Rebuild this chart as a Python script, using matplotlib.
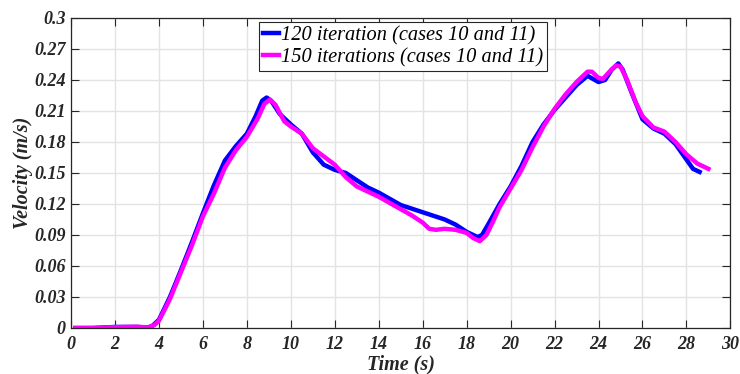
import matplotlib.pyplot as plt

# velocity samples, 120 iterations
t120 = [0.2, 1, 2, 3, 3.5, 3.7, 4, 4.5, 5, 5.5, 6, 6.5, 7, 7.5, 8, 8.4, 8.7, 8.9,
        9.1, 9.5, 10, 10.5, 11, 11.5, 12, 12.5, 13, 13.5, 14, 15, 16, 17, 17.5,
        18, 18.5, 18.7, 19, 19.5, 20, 20.5, 21, 21.5, 22, 22.5, 23, 23.5, 24,
        24.3, 24.6, 24.9, 25.1, 25.5, 26, 26.5, 27, 27.5, 28, 28.3, 28.6]
v120 = [0, 0, 0.001, 0.001, 0.0005, 0.002, 0.008, 0.030, 0.056, 0.083, 0.111,
        0.138, 0.162, 0.176, 0.188, 0.205, 0.220, 0.223, 0.220, 0.207, 0.197,
        0.188, 0.170, 0.158, 0.153, 0.150, 0.143, 0.136, 0.131, 0.119, 0.112,
        0.105, 0.100, 0.093, 0.088, 0.090, 0.101, 0.120, 0.137, 0.157, 0.180,
        0.197, 0.211, 0.223, 0.235, 0.244, 0.238, 0.240, 0.250, 0.256, 0.250,
        0.228, 0.202, 0.193, 0.188, 0.178, 0.163, 0.154, 0.151]

# velocity samples, 150 iterations
t150 = [0.2, 1, 2, 3, 3.5, 3.8, 4, 4.5, 5, 5.5, 6, 6.5, 7, 7.5, 8, 8.5, 8.8, 9.05,
        9.3, 9.7, 10, 10.5, 11, 11.5, 12, 12.5, 13, 13.5, 14, 15, 15.5, 16, 16.3,
        16.6, 17, 17.5, 18, 18.3, 18.6, 18.9, 19.2, 19.5, 20, 20.5, 21, 21.5, 22,
        22.5, 23, 23.5, 23.7, 24, 24.2, 24.5, 24.8, 25, 25.3, 25.7, 26, 26.5, 27,
        27.5, 28, 28.5, 29]
v150 = [0, 0, 0.0008, 0.0012, 0.0005, 0.003, 0.007, 0.028, 0.054, 0.080, 0.108,
        0.130, 0.155, 0.172, 0.185, 0.203, 0.217, 0.221, 0.216, 0.200, 0.195,
        0.188, 0.174, 0.166, 0.158, 0.146, 0.137, 0.132, 0.127, 0.115, 0.109,
        0.102, 0.096, 0.095, 0.096, 0.095, 0.092, 0.087, 0.084, 0.090, 0.103,
        0.117, 0.135, 0.153, 0.175, 0.195, 0.212, 0.226, 0.238, 0.248, 0.248,
        0.242, 0.241, 0.248, 0.254, 0.253, 0.240, 0.218, 0.205, 0.194, 0.190,
        0.180, 0.168, 0.159, 0.154]

xticks = list(range(0, 31, 2))
yticks = [0, 0.03, 0.06, 0.09, 0.12, 0.15, 0.18, 0.21, 0.24, 0.27, 0.3]
yticklabels = ['0', '0.03', '0.06', '0.09', '0.12', '0.15', '0.18', '0.21',
               '0.24', '0.27', '0.3']

plt.rcParams['font.family'] = 'Liberation Serif'
dark = '#262626'

fig = plt.figure(figsize=(7.4, 3.74), dpi=100)
ax = fig.add_axes([0.096, 0.123, 0.891, 0.829])

ax.plot(t120, v120, color='#0000ff', lw=3.2, label='120 iteration (cases 10 and 11)')
ax.plot(t150, v150, color='#ff00ff', lw=3.2, label='150 iterations (cases 10 and 11)')

ax.set_xlim(0, 30)
ax.set_ylim(0, 0.3)
ax.set_xticks(xticks)
ax.set_yticks(yticks)
ax.set_xticklabels([str(x) for x in xticks], fontweight='bold', fontstyle='italic',
                   fontsize=13, color=dark)
ax.set_yticklabels(yticklabels, fontweight='bold', fontstyle='italic',
                   fontsize=13, color=dark)
ax.tick_params(direction='in', length=6, width=0.8, top=True, right=True,
               color=dark, pad=4)
ax.tick_params(axis='x', pad=6)
ax.grid(True, color='#e3e3e3', lw=1)
ax.set_axisbelow(True)
for s in ax.spines.values():
    s.set_color(dark)
    s.set_linewidth(0.9)

ax.set_xlabel('Time (s)', fontweight='bold', fontstyle='italic', fontsize=14.5,
              color=dark, labelpad=1)
ax.set_ylabel('Velocity (m/s)', fontweight='bold', fontstyle='italic', fontsize=14.5,
              color=dark, labelpad=1)

leg = ax.legend(loc='upper left', bbox_to_anchor=(0.2855, 0.987),
                prop={'style': 'italic', 'size': 14.7}, handlelength=0.75,
                handletextpad=0.1, labelspacing=0.12, borderpad=0.2,
                borderaxespad=0, fancybox=False, framealpha=1)
leg.get_frame().set_edgecolor(dark)
leg.get_frame().set_linewidth(0.8)

fig.savefig('out.png', dpi=100)
